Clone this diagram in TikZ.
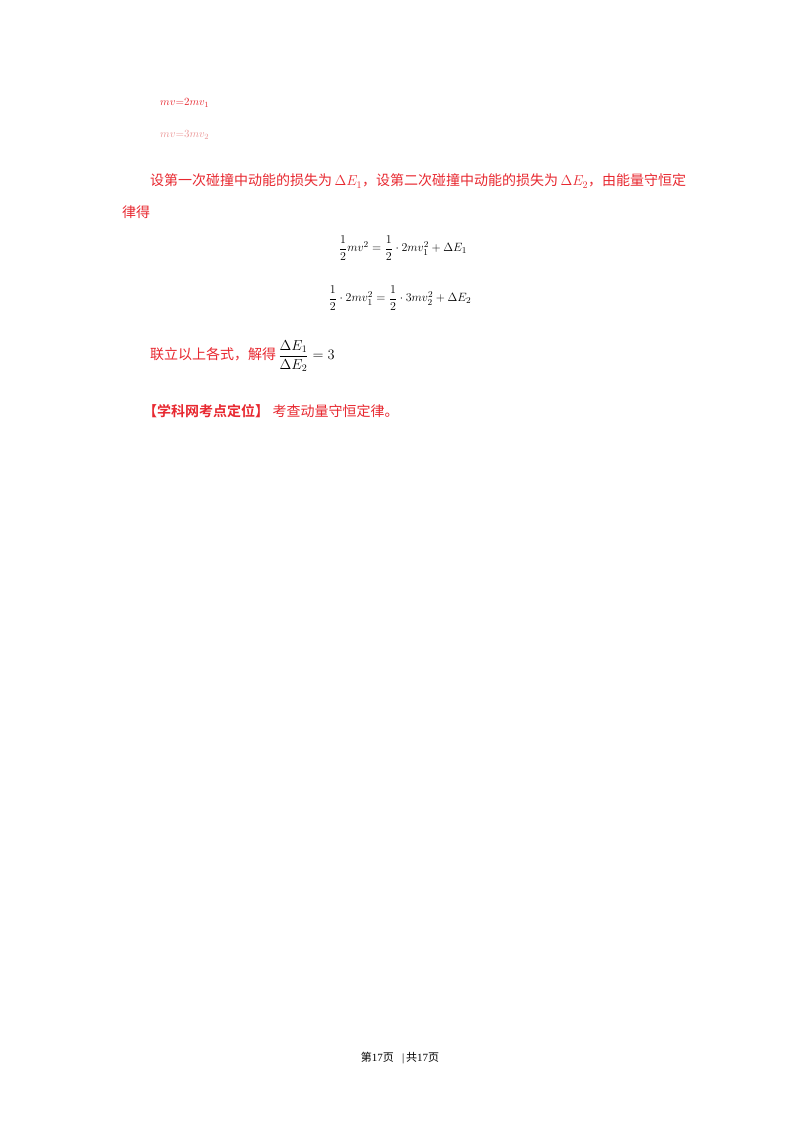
\documentclass[tikz,border=0pt]{standalone}
\usepackage{amsmath}
\usepackage{fontspec}
\setmainfont{Liberation Serif}
\newfontfamily\cjk{Noto Sans CJK SC}
\newfontfamily\cjkb{Noto Sans CJK SC Bold}
\definecolor{redt}{RGB}{232,40,48}
\definecolor{fade}{RGB}{235,150,150}
\begin{document}
\begin{tikzpicture}[x=1pt,y=-1pt,
  txt/.style={anchor=west,inner sep=0pt,text=redt,font=\fontsize{14}{16}\selectfont},
  eq/.style={inner sep=0pt,font=\fontsize{13}{15}\selectfont}]
\useasboundingbox[fill=white] (0,0) rectangle (800,1132);
\node[txt,font=\fontsize{11}{13}\selectfont] (a) at (160,103) {$mv{=}2mv_1$};
\node[txt,text=fade,font=\fontsize{11}{13}\selectfont] (b) at (160,135) {$mv{=}3mv_2$};
\node[txt] (l1) at (150,181) {\cjk 设第一次碰撞中动能的损失为\,$\Delta E_1$，设第二次碰撞中动能的损失为\,$\Delta E_2$，由能量守恒定};
\node[txt] (l2) at (122,212) {\cjk 律得};
\node[eq] (e1) at (403,248) {$\dfrac{1}{2}mv^2=\dfrac{1}{2}\cdot 2mv_1^2+\Delta E_1$};
\node[eq] (e2) at (400,298) {$\dfrac{1}{2}\cdot 2mv_1^2=\dfrac{1}{2}\cdot 3mv_2^2+\Delta E_2$};
\node[txt] (l3) at (150,356) {\cjk 联立以上各式，解得\,{\rmfamily\color{black}$\dfrac{\Delta E_1}{\Delta E_2}=3$}};
\node[txt] (l4) at (143,411) {{\cjkb 【学科网考点定位】}\ {\cjk 考查动量守恒定律。}};
\node[inner sep=0pt,font=\fontsize{11}{13}\selectfont] (f) at (400,1058) {{\cjk 第}17{\cjk 页}\ \ \ |\,{\cjk 共}17{\cjk 页}};
\end{tikzpicture}
\end{document}
